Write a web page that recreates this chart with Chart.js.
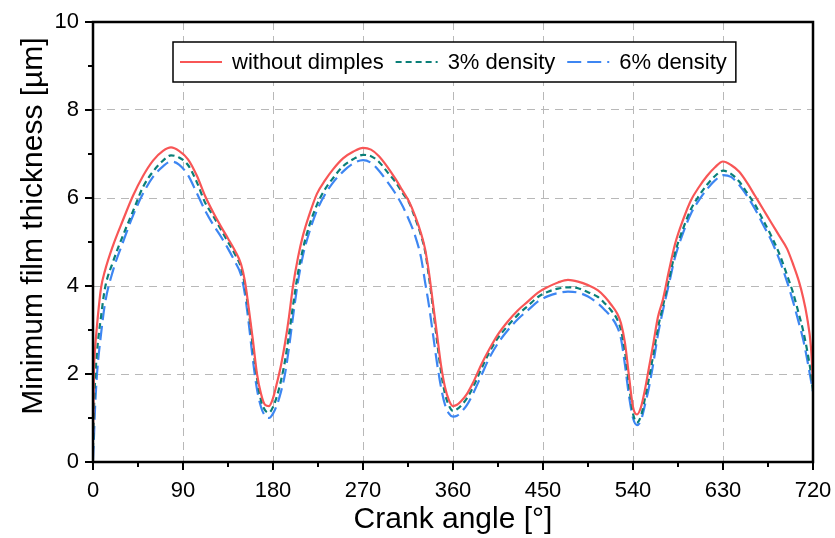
<!DOCTYPE html>
<html>
<head>
<meta charset="utf-8">
<script src="https://cdn.jsdelivr.net/npm/chart.js@4.4.0/dist/chart.umd.min.js"></script>
<style>
    html, body { margin: 0; padding: 0; background: #fff; }
    #wrap { width: 835px; height: 538px; }
</style>
</head>
<body>
<div id="wrap"><canvas id="chart-line" width="835" height="538"></canvas></div>
<script>
var crankAngle = [0, 1, 2, 4, 8, 12, 20, 30, 40, 50, 60, 70, 78, 86, 95, 104, 112, 120, 128, 135, 142, 148, 152, 156, 160, 164, 168, 172, 176, 180,
    184, 188, 192, 196, 200, 205, 210, 216, 224, 232, 240, 250, 260, 270, 278, 286, 294, 302, 310, 316, 322, 328, 332, 336, 340, 344, 348, 352, 356, 360,
    364, 368, 374, 380, 388, 396, 405, 415, 425, 435, 445, 455, 465, 475, 485, 495, 505, 512, 518, 524, 528, 532, 536, 540, 544, 548, 552, 556, 560, 565,
    570, 576, 582, 590, 598, 606, 614, 622, 630, 638, 646, 654, 662, 670, 678, 686, 694, 700, 706, 710, 714, 718, 720];

var withoutDimples = [0.6, 2.1, 2.55, 3.1, 3.95, 4.35, 4.92, 5.5, 6.05, 6.5, 6.85, 7.07, 7.15, 7.07, 6.88, 6.5, 6.05, 5.68, 5.35, 5.08, 4.8, 4.5, 4.1, 3.45, 2.75, 2.0, 1.55, 1.3, 1.27, 1.45,
    1.8, 2.2, 2.7, 3.3, 4.0, 4.65, 5.15, 5.6, 6.1, 6.4, 6.65, 6.9, 7.05, 7.14, 7.1, 6.95, 6.72, 6.45, 6.15, 5.92, 5.6, 5.2, 4.85, 4.3, 3.6, 2.9, 2.2, 1.7, 1.4, 1.27,
    1.3, 1.38, 1.55, 1.8, 2.2, 2.55, 2.9, 3.2, 3.45, 3.65, 3.85, 3.98, 4.08, 4.14, 4.1, 4.02, 3.9, 3.75, 3.58, 3.38, 3.15, 2.7, 1.95, 1.25, 1.08, 1.25, 1.65, 2.15, 2.65, 3.3,
    3.7, 4.35, 4.95, 5.5, 5.95, 6.25, 6.5, 6.7, 6.83, 6.75, 6.6, 6.35, 6.05, 5.75, 5.45, 5.15, 4.85, 4.5, 4.1, 3.75, 3.3, 2.6, 1.8];

var density3 = [0.3, 1.2, 1.8, 2.5, 3.3, 3.95, 4.55, 5.15, 5.7, 6.25, 6.6, 6.85, 6.97, 6.92, 6.75, 6.35, 5.9, 5.6, 5.28, 5.0, 4.72, 4.42, 4.0, 3.35, 2.6, 1.9, 1.4, 1.18, 1.12, 1.25,
    1.5, 1.85, 2.3, 2.9, 3.55, 4.3, 4.85, 5.35, 5.85, 6.2, 6.45, 6.72, 6.88, 6.98, 6.95, 6.82, 6.6, 6.38, 6.1, 5.9, 5.55, 5.15, 4.8, 4.2, 3.5, 2.75, 2.05, 1.55, 1.28, 1.16,
    1.2, 1.28, 1.45, 1.7, 2.1, 2.48, 2.82, 3.1, 3.35, 3.55, 3.75, 3.87, 3.94, 3.97, 3.95, 3.86, 3.75, 3.6, 3.45, 3.25, 3.0, 2.5, 1.75, 1.1, 0.9, 1.05, 1.45, 1.9, 2.4, 3.05,
    3.55, 4.15, 4.75, 5.3, 5.75, 6.05, 6.3, 6.5, 6.62, 6.55, 6.38, 6.12, 5.85, 5.5, 5.15, 4.75, 4.25, 3.85, 3.35, 3.0, 2.55, 2.0, 1.6];

var density6 = [0.05, 0.6, 1.2, 2.0, 2.9, 3.6, 4.35, 5.0, 5.6, 6.1, 6.48, 6.72, 6.83, 6.76, 6.52, 6.1, 5.72, 5.4, 5.12, 4.85, 4.55, 4.25, 3.8, 3.1, 2.3, 1.65, 1.25, 1.05, 1.0, 1.1,
    1.3, 1.6, 2.0, 2.6, 3.3, 4.1, 4.7, 5.2, 5.72, 6.08, 6.35, 6.6, 6.78, 6.86, 6.8, 6.62, 6.38, 6.12, 5.8, 5.5, 5.15, 4.65, 4.1, 3.55, 2.9, 2.25, 1.7, 1.3, 1.1, 1.03,
    1.05, 1.13, 1.3, 1.55, 1.95, 2.35, 2.7, 3.0, 3.25, 3.45, 3.65, 3.77, 3.84, 3.87, 3.85, 3.76, 3.6, 3.45, 3.3, 3.08, 2.8, 2.2, 1.5, 1.0, 0.84, 0.95, 1.3, 1.7, 2.2, 2.9,
    3.45, 4.05, 4.65, 5.2, 5.65, 5.95, 6.2, 6.4, 6.52, 6.48, 6.3, 6.05, 5.75, 5.4, 5.05, 4.62, 4.1, 3.65, 3.15, 2.8, 2.35, 1.85, 1.6];

var seriesLabels = ["without dimples", "3% density", "6% density"];
var xTicks = [0, 90, 180, 270, 360, 450, 540, 630, 720];
var yTicks = [0, 2, 4, 6, 8, 10];

function points(values) {
    return crankAngle.map(function(a, i) { return { x: a, y: values[i] }; });
}

function minorOf(ticks) {
    var out = [];
    for (var i = 0; i < ticks.length - 1; i++) out.push((ticks[i] + ticks[i + 1]) / 2);
    return out;
}

// frame, outward ticks, y title and the boxed legend inside the plot
var framePlugin = {
    id: "frame",
    afterDraw: function(chart) {
        var ctx = chart.ctx;
        var a = chart.chartArea;
        var xs = chart.scales.x, ys = chart.scales.y;
        ctx.save();
        ctx.strokeStyle = "#000";
        ctx.lineWidth = 2;
        xTicks.forEach(function(v) {
            var px = xs.getPixelForValue(v);
            ctx.beginPath(); ctx.moveTo(px, a.bottom); ctx.lineTo(px, a.bottom + 8); ctx.stroke();
        });
        minorOf(xTicks).forEach(function(v) {
            var px = xs.getPixelForValue(v);
            ctx.beginPath(); ctx.moveTo(px, a.bottom); ctx.lineTo(px, a.bottom + 5); ctx.stroke();
        });
        yTicks.forEach(function(v) {
            var py = ys.getPixelForValue(v);
            ctx.beginPath(); ctx.moveTo(a.left - 8, py); ctx.lineTo(a.left, py); ctx.stroke();
        });
        minorOf(yTicks).forEach(function(v) {
            var py = ys.getPixelForValue(v);
            ctx.beginPath(); ctx.moveTo(a.left - 5, py); ctx.lineTo(a.left, py); ctx.stroke();
        });
        ctx.lineWidth = 2.5;
        ctx.strokeRect(a.left, a.top, a.right - a.left, a.bottom - a.top);

        // y axis title
        ctx.save();
        ctx.translate(34, 226);
        ctx.rotate(-Math.PI / 2);
        ctx.font = "30px 'Liberation Sans', Arial, sans-serif";
        ctx.fillStyle = "#000";
        ctx.textAlign = "center";
        ctx.textBaseline = "middle";
        ctx.fillText("Minimum film thickness [µm]", 0, 0);
        ctx.restore();

        // legend
        ctx.font = "22px 'Liberation Sans', Arial, sans-serif";
        var boxX = 173, boxY = 42, boxH = 40, sample = 42;
        var widths = chart.data.datasets.map(function(d) { return ctx.measureText(d.label).width; });
        var boxW = 8;
        widths.forEach(function(w) { boxW += sample + 10 + w + 12; });
        boxW -= 4;
        ctx.fillStyle = "#fff";
        ctx.fillRect(boxX, boxY, boxW, boxH);
        ctx.lineWidth = 1.5;
        ctx.strokeStyle = "#000";
        ctx.strokeRect(boxX, boxY, boxW, boxH);
        var x = boxX + 7, cy = boxY + boxH / 2;
        chart.data.datasets.forEach(function(d, i) {
            ctx.save();
            ctx.strokeStyle = d.borderColor;
            ctx.lineWidth = d.borderWidth;
            ctx.setLineDash(d.borderDash || []);
            ctx.beginPath(); ctx.moveTo(x, cy); ctx.lineTo(x + sample, cy); ctx.stroke();
            ctx.restore();
            ctx.fillStyle = "#000";
            ctx.textAlign = "left";
            ctx.textBaseline = "middle";
            ctx.fillText(d.label, x + sample + 10, cy + 1);
            x += sample + 10 + widths[i] + 12;
        });
        ctx.restore();
    }
};

var ctx2 = document.getElementById("chart-line").getContext("2d");

new Chart(ctx2, {
    type: "line",
    data: {
        datasets: [{
            label: seriesLabels[0],
            data: points(withoutDimples),
            borderColor: "#f85656",
            borderWidth: 2.2,
            pointRadius: 0,
            cubicInterpolationMode: "monotone",
            fill: false
        }, {
            label: seriesLabels[1],
            data: points(density3),
            borderColor: "#0a7f78",
            borderWidth: 2.2,
            borderDash: [6, 4],
            pointRadius: 0,
            cubicInterpolationMode: "monotone",
            fill: false
        }, {
            label: seriesLabels[2],
            data: points(density6),
            borderColor: "#3d86f2",
            borderWidth: 2.2,
            borderDash: [14, 6],
            pointRadius: 0,
            cubicInterpolationMode: "monotone",
            fill: false
        }]
    },
    options: {
        responsive: false,
        animation: false,
        layout: { padding: { top: 22, right: 22, left: 0, bottom: 0 } },
        plugins: {
            legend: { display: false },
            tooltip: { enabled: false }
        },
        scales: {
            x: {
                type: "linear",
                min: 0,
                max: 720,
                afterBuildTicks: function(scale) {
                    scale.ticks = xTicks.map(function(v) { return { value: v }; });
                },
                afterFit: function(scale) {
                    scale.height = 76;
                    scale.paddingLeft = 0;
                    scale.paddingRight = 0;
                },
                grid: {
                    color: "#b8b8b8",
                    lineWidth: 1,
                    drawTicks: false
                },
                border: { display: false, dash: [8, 6] },
                ticks: {
                    color: "#000",
                    padding: 16,
                    maxRotation: 0,
                    font: { size: 22, family: "'Liberation Sans', Arial, sans-serif" }
                },
                title: {
                    display: true,
                    text: "Crank angle [°]",
                    color: "#000",
                    padding: { top: 0, bottom: 0 },
                    font: { size: 30, family: "'Liberation Sans', Arial, sans-serif" }
                }
            },
            y: {
                min: 0,
                max: 10,
                afterBuildTicks: function(scale) {
                    scale.ticks = yTicks.map(function(v) { return { value: v }; });
                },
                afterFit: function(scale) {
                    scale.width = 93;
                    scale.paddingTop = 0;
                    scale.paddingBottom = 0;
                },
                grid: {
                    color: "#b8b8b8",
                    lineWidth: 1,
                    drawTicks: false
                },
                border: { display: false, dash: [8, 6] },
                ticks: {
                    color: "#000",
                    padding: 14,
                    font: { size: 22, family: "'Liberation Sans', Arial, sans-serif" }
                }
            }
        }
    },
    plugins: [framePlugin]
});
</script>
</body>
</html>
